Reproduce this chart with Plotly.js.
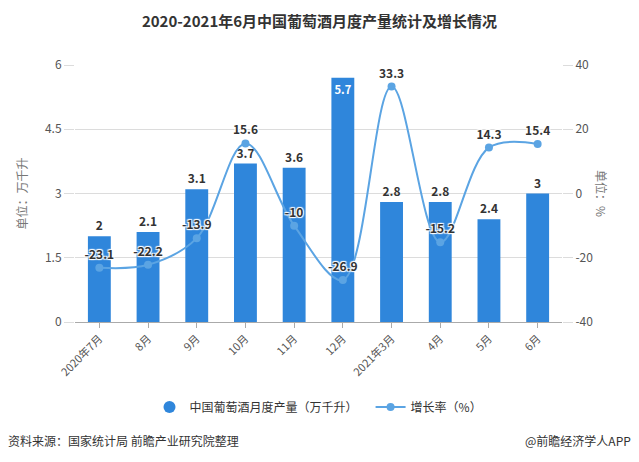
<!DOCTYPE html>
<html><head><meta charset="utf-8">
<script src="https://cdn.plot.ly/plotly-3.0.1.min.js"></script>
<style>html,body{margin:0;padding:0;background:#fff}#c{width:639px;height:462px}</style>
</head><body><div id="c"></div>
<script>
const categories = ['2020年7月','8月','9月','10月','11月','12月','2021年3月','4月','5月','6月'];
const production = [2, 2.1, 3.1, 3.7, 3.6, 5.7, 2.8, 2.8, 2.4, 3];
const growth = [-23.1, -22.2, -13.9, 15.6, -10, -26.9, 33.3, -15.2, 14.3, 15.4];
const leftTicks = [0, 1.5, 3, 4.5, 6];
const rightTicks = [-40, -20, 0, 20, 40];

const font = '"Noto Sans CJK SC", "Noto Sans", sans-serif';
const barColor = '#2f86db';
const lineColor = '#5ba4e3';

const barTextPos = production.map(v => v >= 5 ? 'inside' : 'outside');

const traces = [
  {
    type: 'bar', x: categories, y: production, name: '中国葡萄酒月度产量（万千升）',
    marker: {color: barColor}, showlegend: false,
    text: production.map(String), textposition: barTextPos, insidetextanchor: 'end', textangle: 0,
    outsidetextfont: {color: '#333', size: 12, family: font, weight: 'bold'},
    insidetextfont: {color: '#fff', size: 12, family: font, weight: 'bold'},
    cliponaxis: false, hoverinfo: 'none'
  },
  {
    type: 'scatter', mode: 'markers', x: [null], y: [null], name: '中国葡萄酒月度产量（万千升）   ',
    marker: {color: barColor, size: 12, symbol: 'circle'}, hoverinfo: 'none'
  },
  {
    type: 'scatter', mode: 'lines+markers+text', x: categories, y: growth, yaxis: 'y2',
    name: '增长率（%）',
    line: {color: lineColor, width: 2, shape: 'spline', smoothing: 1},
    marker: {color: lineColor, size: 8},
    text: growth.map(String), textposition: 'top center',
    textfont: {color: '#333', size: 12, family: font, weight: 'bold',
      shadow: '1px 1px 1px #fff, -1px -1px 1px #fff, 1px -1px 1px #fff, -1px 1px 1px #fff'},
    cliponaxis: false, hoverinfo: 'none'
  }
];

const layout = {
  width: 639, height: 462,
  margin: {l: 75, r: 77, t: 65, b: 140},
  paper_bgcolor: '#fff', plot_bgcolor: '#fff',
  font: {family: font, color: '#555', size: 12},
  title: {text: '2020-2021年6月中国葡萄酒月度产量统计及增长情况',
    font: {family: font, size: 15, color: '#333', weight: 'bold'},
    x: 0.5, xref: 'container', y: 1 - 22/462, yref: 'container', yanchor: 'middle'},
  bargap: 0.53,
  xaxis: {
    type: 'category', range: [-0.5, categories.length - 0.5],
    tickangle: -45, tickfont: {size: 11, color: '#555'},
    showgrid: false, showline: true, linecolor: '#aaa', linewidth: 1,
    ticks: 'outside', ticklen: 5, tickcolor: '#aaa', automargin: false
  },
  yaxis: {
    range: [0, 6], tickvals: leftTicks, ticktext: leftTicks.map(String),
    showgrid: true, gridcolor: '#dcdcdc', zeroline: false, showline: false,
    ticks: 'outside', ticklen: 10, tickcolor: '#dcdcdc', automargin: false,
    tickfont: {size: 12, color: '#555'},
    title: {text: '单位：万千升', font: {size: 12, color: '#777'}, standoff: 14}
  },
  yaxis2: {
    range: [-40, 40], tickvals: rightTicks, ticktext: rightTicks.map(String),
    overlaying: 'y', side: 'right', showgrid: false, zeroline: false, showline: false,
    ticks: 'outside', ticklen: 10, tickcolor: '#dcdcdc', automargin: false,
    tickfont: {size: 12, color: '#555'}
  },
  legend: {
    orientation: 'h', x: 0.5, xanchor: 'center', y: -85/257, yanchor: 'middle',
    font: {size: 12, color: '#333'}, itemwidth: 30
  },
  annotations: [
    {text: '单位：%', textangle: 90, xref: 'paper', yref: 'paper',
      x: 1 + (612-562)/487, y: 0.5, showarrow: false, font: {size: 12, color: '#777'}},
    {text: '资料来源：国家统计局 前瞻产业研究院整理', xref: 'paper', yref: 'paper',
      x: (6-75)/487, xanchor: 'left', y: (322-440)/257, yanchor: 'middle', showarrow: false,
      font: {size: 12, color: '#333'}},
    {text: '@前瞻经济学人APP', xref: 'paper', yref: 'paper',
      x: 1 + (633-562)/487, xanchor: 'right', y: (322-440)/257, yanchor: 'middle', showarrow: false,
      font: {size: 12, color: '#333'}}
  ]
};

Plotly.newPlot('c', traces, layout, {displayModeBar: false, staticPlot: true});
</script></body></html>
